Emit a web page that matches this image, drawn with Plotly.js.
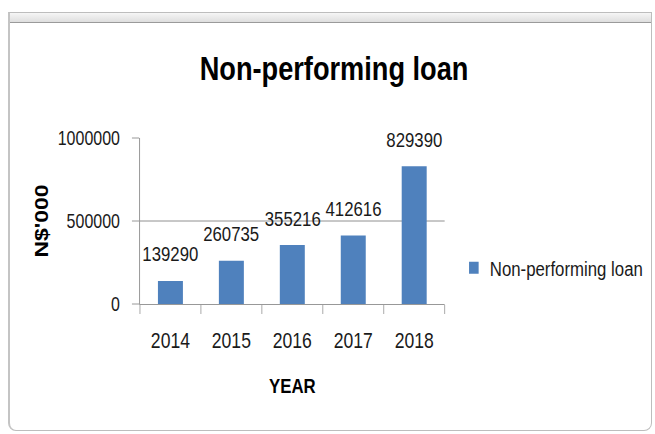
<!DOCTYPE html>
<html><head><meta charset="utf-8">
<script src="https://cdn.plot.ly/plotly-3.0.1.min.js"></script>
<style>
html,body{margin:0;padding:0;background:#fff;overflow:hidden;width:655px;height:434px;}
#frame{position:absolute;left:8px;top:12px;width:644px;height:419px;border:1px solid #bdbdbd;border-left:2px solid #c4c4c4;border-radius:0 0 8px 8px;background:#fff;box-sizing:border-box;}
#strip{position:absolute;left:0;top:0;right:0;height:9px;background:linear-gradient(#f6f6f6,#dedede);border-bottom:1px solid #9a9a9a;}
#chart{position:absolute;left:0;top:0;width:819px;height:434px;transform:scaleX(0.79976);transform-origin:0 0;}
</style></head>
<body>
<div id="frame"><div id="strip"></div></div>
<div id="chart"></div>
<script>
const years = ['2014', '2015', '2016', '2017', '2018'];
const loans = [139290, 260735, 355216, 412616, 829390];
const seriesName = 'Non-performing loan';
const chartTitle = 'Non-performing loan';
const xTitle = 'YEAR';
const yTitle = "N$'000";
const yTicks = [0, 500000, 1000000];

const sans = "'Liberation Sans', Arial, sans-serif";

const trace = {
  type: 'bar',
  x: years,
  y: loans,
  name: seriesName,
  marker: {color: '#4F81BD'},
  hoverinfo: 'none'
};

const layout = {
  width: 819, height: 434,
  margin: {l: 175, r: 263, t: 138, b: 130},
  paper_bgcolor: 'rgba(0,0,0,0)',
  plot_bgcolor: 'rgba(0,0,0,0)',
  showlegend: true,
  title: {
    text: chartTitle,
    font: {family: sans, size: 34, color: '#000', weight: 'bold'},
    x: 0.51, xanchor: 'center', xref: 'container',
    y: 1 - 68 / 434, yref: 'container', yanchor: 'middle'
  },
  bargap: 0.59,
  xaxis: {
    type: 'category',
    range: [-0.5, years.length - 0.5],
    showline: true, linecolor: '#8c8c8c', linewidth: 1,
    ticks: 'outside', tickson: 'boundaries', ticklen: 9, tickcolor: '#a0a0a0',
    showgrid: false,
    tickangle: 0,
    tickfont: {family: sans, size: 22, color: '#1a1a1a'},
    ticklabelstandoff: 17,
    automargin: false,
    title: {text: xTitle, font: {family: sans, size: 21, color: '#000', weight: 'bold'}, standoff: 25}
  },
  yaxis: {
    range: [0, 1000000],
    tickvals: yTicks,
    tickformat: 'd',
    showline: true, linecolor: '#8c8c8c', linewidth: 1,
    ticks: 'outside', ticklen: 9, tickcolor: '#8c8c8c',
    showgrid: true, gridcolor: '#858585', gridwidth: 1,
    zeroline: false,
    tickfont: {family: sans, size: 20, color: '#1a1a1a'},
    ticklabelstandoff: 11,
    automargin: false,
    title: {text: yTitle, font: {family: sans, size: 23, color: '#000', weight: 'bold'}, standoff: 5}
  },
  legend: {
    xref: 'container', yref: 'container',
    x: 0.699, xanchor: 'left',
    y: 1 - 268 / 434, yanchor: 'middle',
    font: {family: sans, size: 21, color: '#1a1a1a'},
    bgcolor: 'rgba(0,0,0,0)'
  },
  annotations: years.map((yr, i) => ({
    x: i, y: loans[i], xref: 'x', yref: 'y',
    text: String(loans[i]),
    showarrow: false, yanchor: 'middle', yshift: 27,
    font: {family: sans, size: 21, color: '#1a1a1a'}
  }))
};

Plotly.newPlot('chart', [trace], layout, {displayModeBar: false, staticPlot: true});
</script>
</body></html>
